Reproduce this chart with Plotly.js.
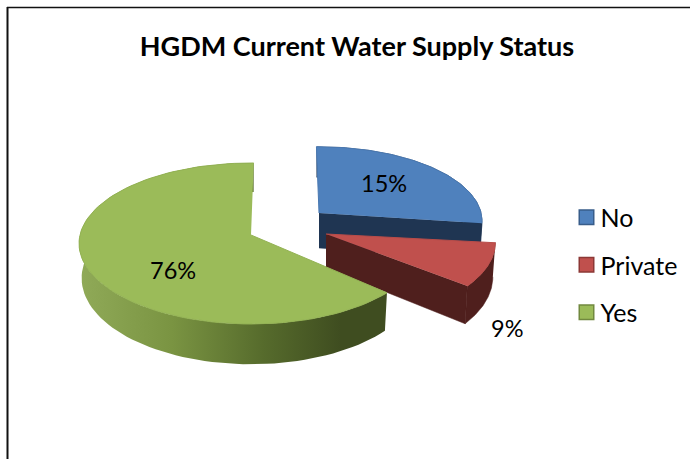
<!DOCTYPE html>
<html>
<head>
<meta charset="utf-8">
<script src="https://cdn.plot.ly/plotly-3.0.1.min.js"></script>
<style>html,body{margin:0;padding:0;background:#fff}</style>
</head>
<body>
<div id="chart" style="width:690px;height:459px"></div>
<script>
// Data
const categories = ['No', 'Private', 'Yes'];
const printedLabels = ['15%', '9%', '76%'];     // text printed on the chart
const drawnShares = [27.5, 9, 63.5];            // slice sizes as actually drawn (they differ from the printed text)

// Styles
const topColors = ['#4f81bd', '#c0504d', '#9bbb59'];
const edgeColors = ['#4a79b2', '#b84c49', '#93b254'];
const swatchLines = ['#385d8a', '#8c3836', '#71893f'];
const sideColors = ['#1f3552', '#4f1f1d', '#4f6128'];
const yesSideScale = [[0, '#90aa58'], [0.3, '#7a9442'], [0.6, '#566b2c'], [0.85, '#3f4d20'], [1, '#3f4d20']];

// 3D projection of each exploded slice, in the axis units (pixels of the frame)
const A = 171, B = 79.6, K = 0.1056, YS = 1.07, XS = 0.985;
const geometry = [
  {vx: 319, vy: 213, s: 0.948, sy: 0.97, rot: -1, depth: 35},
  {vx: 326, vy: 234, s: 0.985, sy: 1, rot: -3, depth: 34},
  {vx: 251, vy: 235, s: 1, sy: 1, rot: 1, depth: 34}
];
const labelPos = [[384, 183], [507, 328], [173, 270]];

function project(g, deg) {
  const t = deg * Math.PI / 180, X = Math.sin(t), Y = Math.cos(t), w = 1 + K * Y;
  return [g.vx + g.s * A * X / w, g.vy - g.s * g.sy * B * Y / w];
}
function lower(g, p) {
  return [g.vx + XS * (p[0] - g.vx), g.vy + g.depth + YS * (p[1] - g.vy)];
}
function arc(g, a0, a1) {
  const out = [];
  for (let i = 0; i <= 96; i++) out.push(project(g, a0 + (a1 - a0) * i / 96));
  return out;
}
const poly = (pts, extra) => Object.assign({
  x: pts.map(p => p[0]), y: pts.map(p => p[1]), type: 'scatter', mode: 'lines',
  fill: 'toself', hoverinfo: 'skip', showlegend: false
}, extra);

const total = drawnShares.reduce((a, b) => a + b, 0);
const traces = [];
let cum = 0;
categories.forEach((name, i) => {
  const g = geometry[i];
  const a0 = cum / total * 360 + g.rot;
  cum += drawnShares[i];
  const a1 = cum / total * 360 + g.rot;
  const top = arc(g, a0, a1);
  const bottom = top.map(p => lower(g, p));
  const v = [g.vx, g.vy];
  // outer curved wall
  const wall = top.concat(bottom.slice().reverse());
  if (i === 2) {
    traces.push(poly(wall, {
      line: {width: 0}, fillcolor: sideColors[i],
      fillgradient: {type: 'horizontal', colorscale: yesSideScale}
    }));
  } else {
    traces.push(poly(wall, {line: {width: 0.5, color: sideColors[i]}, fillcolor: sideColors[i]}));
    // radial cut wall facing the viewer
    const e = top[top.length - 1];
    traces.push(poly([v, e, lower(g, e), lower(g, v)], {line: {width: 0.5, color: sideColors[i]}, fillcolor: sideColors[i]}));
  }
  // top surface
  traces.push(poly([v].concat(top), {line: {width: 1, color: edgeColors[i]}, fillcolor: topColors[i]}));
});
// legend entries
categories.forEach((name, i) => {
  traces.push({
    x: [null], y: [null], type: 'scatter', mode: 'markers', name: name, legendgroup: name,
    marker: {symbol: 'square', size: 14.5, color: topColors[i], line: {width: 1.5, color: swatchLines[i]}},
    hoverinfo: 'skip'
  });
});

const annotations = printedLabels.map((t, i) => ({
  x: labelPos[i][0], y: labelPos[i][1], xref: 'x', yref: 'y', text: t, showarrow: false,
  xanchor: 'center', yanchor: 'middle', font: {family: 'Lato, sans-serif', size: 23.5, color: '#000'}
}));

const layout = {
  width: 690, height: 459,
  margin: {l: 0, r: 0, t: 0, b: 0},
  paper_bgcolor: '#fff', plot_bgcolor: '#fff',
  title: {
    text: 'HGDM Current Water Supply Status', x: 357 / 690, xanchor: 'center', xref: 'paper',
    y: 1 - 47 / 459, yanchor: 'middle', yref: 'paper',
    font: {family: 'Lato, sans-serif', size: 27, weight: 700, color: '#000'}
  },
  xaxis: {range: [0, 690], visible: false, fixedrange: true},
  yaxis: {range: [459, 0], visible: false, fixedrange: true},
  showlegend: true,
  legend: {
    x: 566.5 / 690, xanchor: 'left', y: 1 - 194.5 / 459, yanchor: 'top',
    font: {family: 'Lato, sans-serif', size: 25, color: '#000'},
    tracegroupgap: 12, itemclick: false, itemdoubleclick: false, bgcolor: 'rgba(0,0,0,0)'
  },
  annotations: annotations,
  shapes: [
    {type: 'line', xref: 'x', yref: 'y', x0: 7.5, x1: 7.5, y0: 7, y1: 459, line: {color: '#111', width: 2}},
    {type: 'line', xref: 'x', yref: 'y', x0: 7, x1: 690, y0: 7.5, y1: 7.5, line: {color: '#111', width: 1.5}}
  ]
};

Plotly.newPlot('chart', traces, layout, {displayModeBar: false}).then(() => {
  // bring the legend text closer to its swatch
  document.querySelectorAll('.legendtext').forEach(t => t.setAttribute('x', 34));
});
</script>
</body>
</html>
